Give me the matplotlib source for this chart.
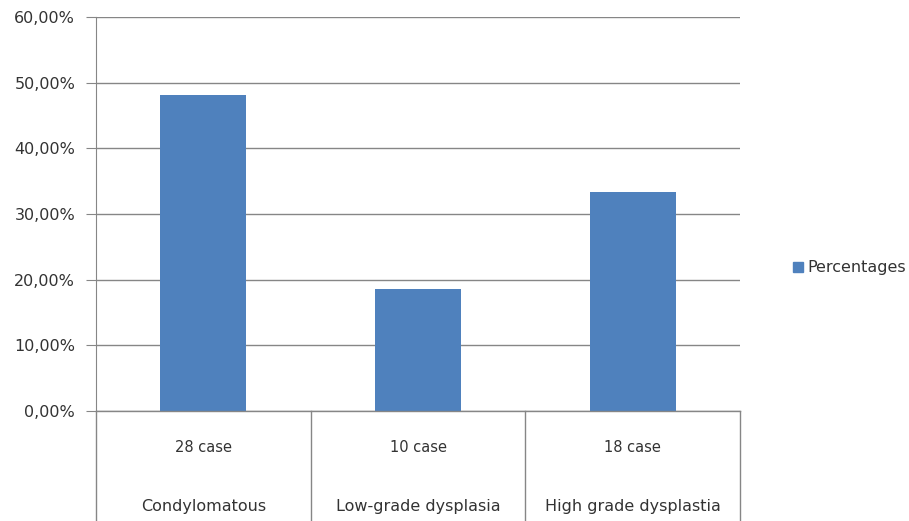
import matplotlib
matplotlib.use("Agg")
import matplotlib.pyplot as plt
import matplotlib.transforms as mtransforms
from matplotlib.ticker import FuncFormatter
from matplotlib.patches import Patch

categories = ["Condylomatous", "Low-grade dysplasia", "High grade dysplastia"]
case_labels = ["28 case", "10 case", "18 case"]
percentages = [48.15, 18.52, 33.33]
yticks = [0, 10, 20, 30, 40, 50, 60]

plt.rcParams['font.family'] = ['DejaVu Sans']
fig = plt.figure(figsize=(9.09, 5.21), dpi=100)
ax = fig.add_axes([96/909, 110/521, (740-96)/909, (411-17)/521])

x = list(range(len(categories)))
ax.bar(x, percentages, width=0.4, color="#4F81BD", zorder=3, label="Percentages")

ax.set_xlim(-0.5, len(categories) - 0.5)
ax.set_ylim(0, 60)
ax.set_yticks(yticks)
ax.yaxis.set_major_formatter(FuncFormatter(lambda v, p: f"{v:.2f}".replace(".", ",") + "%"))
ax.tick_params(axis='y', length=7, color="#868686", labelsize=11.5, labelcolor="#333333", pad=8)
ax.set_xticks([])
ax.grid(axis='y', color="#868686", linewidth=1, zorder=0)
for s in ["top", "right", "bottom"]:
    ax.spines[s].set_visible(False)
ax.spines["left"].set_color("#868686")

trans = mtransforms.blended_transform_factory(ax.transData, ax.transAxes)
depth = -110/394
for xb in [-0.5, 0.5, 1.5, 2.5]:
    ax.plot([xb, xb], [0, depth], transform=trans, color="#868686", lw=1, clip_on=False)
ax.plot([-0.5, 2.5], [0, 0], transform=trans, color="#868686", lw=1, clip_on=False, zorder=4)

for xi, cl, cat in zip(x, case_labels, categories):
    ax.text(xi, -36/394, cl, transform=trans, ha="center", va="center", fontsize=10.5, color="#333333")
    ax.text(xi, -96/394, cat, transform=trans, ha="center", va="center", fontsize=11.5, color="#333333")

fig.legend(handles=[Patch(color="#4F81BD", label="Percentages")], loc="center left",
           bbox_to_anchor=(782/909, 1 - 268/521), frameon=False, fontsize=11.5,
           handlelength=0.6, handleheight=0.6, handletextpad=0.3, borderpad=0.2,
           labelcolor="#333333")

fig.savefig("out.png", dpi=100, facecolor="white")
